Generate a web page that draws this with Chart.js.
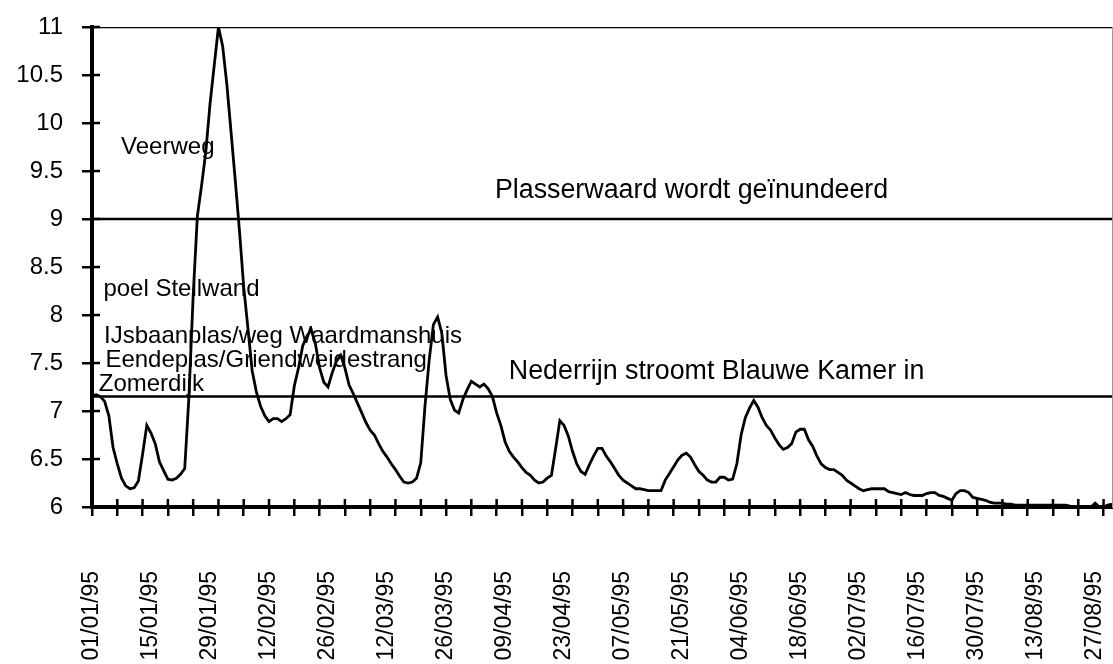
<!DOCTYPE html>
<html>
<head>
<meta charset="utf-8">
<script src="https://cdn.jsdelivr.net/npm/chart.js@4.4.1/dist/chart.umd.min.js"></script>
<style>
  html, body { margin: 0; padding: 0; background: #fff; }
  #wrap { width: 1113px; height: 664px; }
</style>
</head>
<body>
<div id="wrap"><canvas id="myChart"></canvas></div>
<script>
// daily water level, 1 Jan 1995 .. 31 Aug 1995 (index = day number)
var levels = [
  7.16, 7.17, 7.15, 7.10, 6.95, 6.62, 6.45, 6.30, 6.22, 6.19,
  6.20, 6.27, 6.55, 6.85, 6.77, 6.66, 6.47, 6.38, 6.29, 6.28,
  6.30, 6.34, 6.40, 7.15, 8.20, 9.03, 9.35, 9.70, 10.20, 10.60,
  11.00, 10.80, 10.40, 9.90, 9.40, 8.87, 8.29, 7.86, 7.42, 7.20,
  7.05, 6.95, 6.89, 6.92, 6.92, 6.89, 6.92, 6.96, 7.26, 7.45,
  7.68, 7.78, 7.85, 7.70, 7.45, 7.30, 7.25, 7.40, 7.52, 7.58,
  7.45, 7.27, 7.18, 7.08, 6.98, 6.88, 6.80, 6.75, 6.66, 6.58,
  6.52, 6.45, 6.39, 6.32, 6.26, 6.25, 6.26, 6.30, 6.46, 7.05,
  7.53, 7.90, 7.98, 7.81, 7.37, 7.12, 7.01, 6.98, 7.12, 7.22,
  7.31, 7.28, 7.25, 7.28, 7.23, 7.15, 6.98, 6.85, 6.68, 6.58,
  6.52, 6.47, 6.41, 6.36, 6.33, 6.28, 6.25, 6.26, 6.30, 6.33,
  6.61, 6.90, 6.85, 6.74, 6.58, 6.45, 6.37, 6.34, 6.44, 6.53,
  6.61, 6.61, 6.53, 6.47, 6.40, 6.33, 6.28, 6.25, 6.22, 6.19,
  6.19, 6.18, 6.17, 6.17, 6.17, 6.17, 6.28, 6.35, 6.42, 6.49,
  6.54, 6.56, 6.52, 6.44, 6.37, 6.33, 6.28, 6.26, 6.26, 6.31,
  6.31, 6.28, 6.29, 6.45, 6.75, 6.93, 7.03, 7.11, 7.04, 6.93,
  6.85, 6.80, 6.72, 6.65, 6.60, 6.62, 6.66, 6.78, 6.81, 6.81,
  6.70, 6.63, 6.53, 6.45, 6.41, 6.39, 6.39, 6.36, 6.33, 6.28,
  6.25, 6.22, 6.19, 6.17, 6.18, 6.19, 6.19, 6.19, 6.19, 6.16,
  6.15, 6.14, 6.13, 6.15, 6.13, 6.12, 6.12, 6.12, 6.14, 6.15,
  6.15, 6.12, 6.11, 6.09, 6.07, 6.14, 6.17, 6.17, 6.15, 6.10,
  6.09, 6.08, 6.07, 6.05, 6.04, 6.04, 6.04, 6.03, 6.03, 6.02,
  6.02, 6.02, 6.02, 6.02, 6.02, 6.02, 6.02, 6.02, 6.02, 6.02,
  6.02, 6.02, 6.01, 6.00, 6.00, 6.00, 6.00, 6.00, 6.04, 6.00,
  6.00, 6.02, 6.03
];

// date labels, one every 14 days from day 0
var dateLabels = [
  '01/01/95', '15/01/95', '29/01/95', '12/02/95', '26/02/95', '12/03/95',
  '26/03/95', '09/04/95', '23/04/95', '07/05/95', '21/05/95', '04/06/95',
  '18/06/95', '02/07/95', '16/07/95', '30/07/95', '13/08/95', '27/08/95'
];

// critical levels drawn as horizontal lines
var thresholds = [11, 9, 7.15];

// names written next to the levels where they flood
var placeNotes = [
  { text: 'Veerweg', day: 6.9, level: 9.68 },
  { text: 'poel Stellwand', day: 2.7, level: 8.20 },
  { text: 'IJsbaanplas/weg Waardmanshuis', day: 2.85, level: 7.71 },
  { text: ' Eendeplas/Griendweidestrang', day: 1.6, level: 7.46 },
  { text: 'Zomerdijk', day: 1.6, level: 7.21 }
];
var eventNotes = [
  { text: 'Plasserwaard wordt geïnundeerd', day: 95.6, level: 9.22 },
  { text: 'Nederrijn stroomt Blauwe Kamer in', day: 98.9, level: 7.33 }
];

var lastDay = levels.length - 1;
var myChart;

// short tick marks on the inside of both axes, plus the text notes
var overlay = {
  id: 'overlay',
  afterDatasetsDraw: function (chart) {
    var ctx = chart.ctx;
    var area = chart.chartArea;
    var x = chart.scales.x;
    var y = chart.scales.y;
    ctx.save();
    ctx.strokeStyle = '#000';
    ctx.lineWidth = 2.5;
    ctx.beginPath();
    y.ticks.forEach(function (t) {
      var py = y.getPixelForValue(t.value);
      ctx.moveTo(area.left, py);
      ctx.lineTo(area.left + 8, py);
    });
    x.ticks.forEach(function (t) {
      var px = x.getPixelForValue(t.value);
      ctx.moveTo(px, area.bottom);
      ctx.lineTo(px, area.bottom - 8);
    });
    ctx.stroke();

    ctx.fillStyle = '#000';
    ctx.textAlign = 'left';
    ctx.textBaseline = 'alphabetic';
    ctx.font = '24px "Liberation Sans", Arial, sans-serif';
    placeNotes.forEach(function (n) {
      ctx.fillText(n.text, x.getPixelForValue(n.day), y.getPixelForValue(n.level));
    });
    ctx.font = '26.8px "Liberation Sans", Arial, sans-serif';
    eventNotes.forEach(function (n) {
      ctx.fillText(n.text, x.getPixelForValue(n.day), y.getPixelForValue(n.level));
    });
    ctx.restore();
  }
};

function createChart() {
  Chart.defaults.font.family = '"Liberation Sans", Arial, sans-serif';
  Chart.defaults.color = '#000';

  var series = levels.map(function (v, i) { return { x: i, y: v }; });
  var datasets = [{
    data: series,
    borderColor: '#000',
    borderWidth: 2.8,
    pointRadius: 0,
    tension: 0,
    xAxisID: 'x',
    yAxisID: 'y'
  }];
  thresholds.forEach(function (t) {
    datasets.push({
      data: [{ x: 0, y: t }, { x: lastDay, y: t }],
      borderColor: '#000',
      borderWidth: 2.5,
      pointRadius: 0,
      xAxisID: 'x',
      yAxisID: 'y'
    });
  });

  var ctx = document.getElementById('myChart').getContext('2d');
  myChart = new Chart(ctx, {
    type: 'line',
    data: { datasets: datasets },
    options: {
      responsive: true,
      maintainAspectRatio: false,
      animation: false,
      layout: { padding: { top: 27, right: 0, bottom: 0, left: 0 } },
      plugins: { legend: { display: false }, tooltip: { enabled: false } },
      scales: {
        x: {
          type: 'linear',
          position: 'bottom',
          weight: 0,
          min: 0,
          max: lastDay,
          ticks: { display: false, stepSize: 6, includeBounds: false, autoSkip: false },
          grid: { drawOnChartArea: false, drawTicks: true, tickLength: 9, color: '#000', lineWidth: 2.5 },
          border: { color: '#000', width: 4 },
          afterFit: function (s) { s.height = 9; s.paddingLeft = 0; s.paddingRight = 0; }
        },
        xl: {
          type: 'linear',
          position: 'bottom',
          weight: 1,
          min: 0,
          max: lastDay,
          grid: { display: false, drawTicks: false },
          border: { display: false },
          ticks: {
            stepSize: 14,
            includeBounds: false,
            autoSkip: false,
            minRotation: 90,
            maxRotation: 90,
            padding: 55,
            font: { size: 23 },
            callback: function (v) { return dateLabels[Math.round(v / 14)] || ''; }
          },
          afterFit: function (s) { s.height = 148; s.paddingLeft = 0; s.paddingRight = 0; }
        },
        y: {
          type: 'linear',
          position: 'left',
          min: 6,
          max: 11,
          ticks: {
            stepSize: 0.5,
            padding: 19,
            font: { size: 24 },
            callback: function (v) { return String(v); }
          },
          grid: { drawOnChartArea: false, drawTicks: true, tickLength: 10, color: '#000', lineWidth: 2.5 },
          border: { color: '#000', width: 4 },
          afterFit: function (s) { s.width = 92; s.paddingTop = 0; s.paddingBottom = 0; }
        },
        yr: {
          type: 'linear',
          position: 'right',
          grid: { display: false },
          ticks: { display: false },
          border: { color: '#999', width: 1 },
          afterFit: function (s) { s.width = 1; s.paddingTop = 0; s.paddingBottom = 0; }
        }
      }
    },
    plugins: [overlay]
  });
}

document.addEventListener('DOMContentLoaded', function () {
  createChart();
});
</script>
</body>
</html>
